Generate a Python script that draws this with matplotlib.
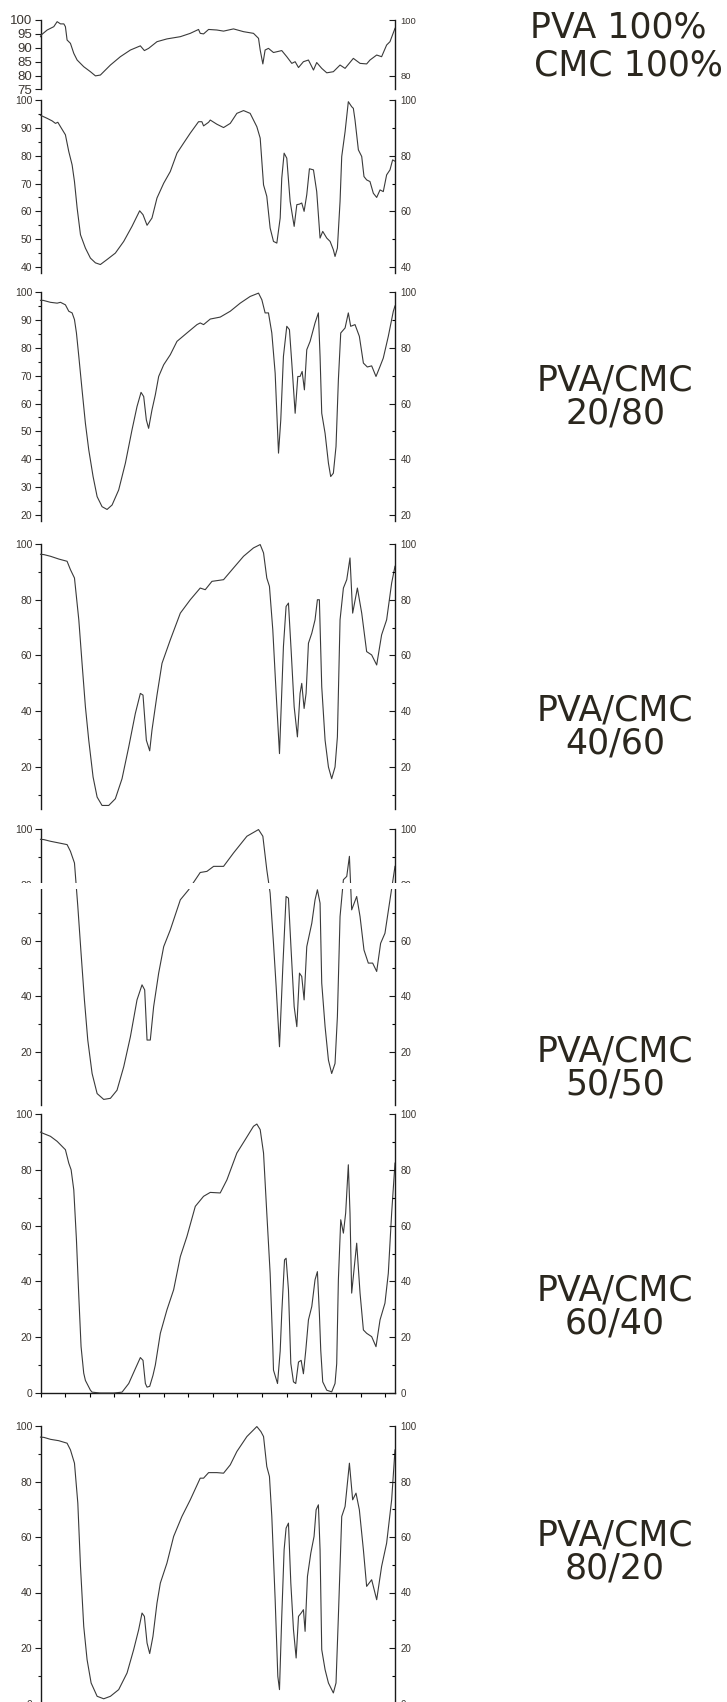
import matplotlib
matplotlib.use("Agg")
import matplotlib.pyplot as plt
from matplotlib.patches import Rectangle
from matplotlib.ticker import MultipleLocator, FixedLocator

# FTIR transmittance (%) vs wavenumber (cm-1)
wn_pva = [4000, 3993, 3932, 3865, 3831, 3797, 3763, 3747, 3730, 3696, 3662, 3628, 3561, 3493,
          3442, 3392, 3290, 3189, 3087, 2986, 2945, 2902, 2817, 2716, 2580, 2479, 2395, 2378,
          2344, 2293, 2209, 2141, 2040, 1938, 1837, 1786, 1769, 1742, 1719, 1685, 1634, 1550,
          1499, 1448, 1414, 1380, 1330, 1279, 1228, 1195, 1144, 1093, 1026, 958, 907, 823,
          755, 688, 654, 586, 536, 485, 451, 400]
t_pva = [94.0, 94.6, 96.4, 97.6, 99.4, 98.6, 98.6, 97.6, 92.8, 91.6, 88.0, 85.6, 83.2, 81.4,
         79.9, 80.2, 83.8, 86.8, 89.2, 90.7, 89.0, 89.8, 92.2, 93.2, 94.0, 95.2, 96.6, 95.2,
         95.0, 96.6, 96.4, 96.0, 96.8, 95.8, 95.2, 93.4, 89.2, 84.2, 89.2, 89.8, 88.3, 89.0,
         86.8, 84.4, 85.0, 82.9, 85.0, 85.6, 82.0, 84.7, 82.6, 81.0, 81.4, 83.8, 82.6, 86.2,
         84.4, 84.2, 85.6, 87.4, 86.8, 91.0, 92.2, 97.0]

wn_cmc = [4000, 3993, 3932, 3882, 3848, 3824, 3797, 3747, 3713, 3679, 3655, 3628, 3594, 3544,
          3493, 3442, 3392, 3324, 3240, 3155, 3071, 2993, 2959, 2918, 2868, 2817, 2749, 2682,
          2614, 2547, 2479, 2395, 2361, 2344, 2293, 2276, 2209, 2141, 2073, 2006, 1938, 1871,
          1803, 1769, 1735, 1702, 1668, 1634, 1600, 1566, 1550, 1526, 1499, 1465, 1424, 1397,
          1370, 1347, 1323, 1296, 1269, 1228, 1195, 1161, 1134, 1093, 1059, 1026, 1009, 985,
          958, 941, 907, 874, 840, 823, 806, 772, 738, 715, 688, 654, 620, 586, 552, 519,
          485, 451, 424, 400]
t_cmc = [94.5, 94.4, 93.4, 92.5, 91.6, 92.0, 90.4, 87.5, 81.5, 76.7, 70.7, 61.2, 51.6, 46.8,
         43.2, 41.5, 40.9, 42.7, 45.0, 49.2, 54.6, 60.2, 58.8, 55.0, 57.6, 64.8, 70.1, 74.3,
         80.9, 84.5, 88.1, 92.2, 92.2, 90.7, 92.0, 92.8, 91.3, 90.1, 91.6, 95.2, 96.2, 95.2,
         90.4, 86.3, 69.5, 65.4, 54.0, 49.2, 48.6, 57.6, 71.9, 80.9, 79.1, 63.6, 54.6, 62.4,
         62.6, 63.0, 60.0, 66.0, 75.3, 74.9, 67.1, 50.4, 52.8, 50.4, 49.2, 46.2, 43.8, 46.8,
         63.6, 79.7, 88.6, 99.4, 97.6, 97.0, 92.8, 82.1, 79.7, 72.5, 71.3, 70.7, 66.5, 65.0,
         67.7, 67.1, 73.1, 74.9, 78.5, 78.0]

wn_2080 = [4000, 3973, 3899, 3831, 3797, 3747, 3713, 3679, 3655, 3635, 3611, 3578, 3544, 3510,
           3466, 3425, 3375, 3324, 3273, 3206, 3138, 3071, 3020, 2979, 2952, 2925, 2902, 2868,
           2834, 2800, 2749, 2682, 2614, 2513, 2411, 2378, 2344, 2276, 2175, 2073, 1972, 1871,
           1786, 1752, 1719, 1685, 1651, 1617, 1583, 1560, 1533, 1499, 1472, 1448, 1414, 1387,
           1364, 1343, 1320, 1296, 1262, 1212, 1178, 1161, 1144, 1110, 1076, 1053, 1026, 999,
           975, 951, 907, 874, 850, 806, 762, 721, 681, 637, 593, 552, 519, 468, 417, 400]
t_2080 = [97.0, 97.0, 96.3, 96.0, 96.3, 95.4, 93.1, 92.5, 90.1, 85.3, 76.9, 64.9, 52.9, 43.4,
          33.8, 26.6, 23.0, 22.0, 23.6, 29.0, 38.6, 50.5, 58.9, 64.0, 62.5, 54.1, 51.1, 57.7,
          63.1, 69.7, 73.9, 77.5, 82.3, 85.3, 88.3, 88.9, 88.3, 90.3, 91.0, 93.1, 96.0, 98.4,
          99.6, 97.2, 92.5, 92.5, 85.3, 70.9, 42.2, 54.1, 76.9, 87.7, 86.5, 74.5, 56.5, 69.7,
          69.7, 71.5, 64.9, 79.3, 82.3, 88.9, 92.5, 76.9, 56.5, 49.3, 38.6, 33.8, 35.0, 44.6,
          68.5, 85.3, 87.1, 92.5, 87.7, 88.3, 84.1, 74.5, 73.1, 73.5, 69.7, 73.3, 76.3, 84.1,
          93.1, 95.0]

wn_4060 = [4000, 3966, 3899, 3814, 3730, 3696, 3655, 3611, 3578, 3544, 3510, 3466, 3425, 3375,
           3307, 3240, 3172, 3104, 3037, 2986, 2959, 2925, 2891, 2868, 2817, 2766, 2682, 2580,
           2479, 2378, 2327, 2259, 2141, 2040, 1938, 1837, 1769, 1735, 1702, 1675, 1641, 1607,
           1573, 1533, 1506, 1482, 1455, 1424, 1391, 1364, 1347, 1323, 1303, 1279, 1245, 1212,
           1188, 1168, 1144, 1110, 1076, 1043, 1009, 985, 958, 924, 890, 857, 830, 782, 738,
           688, 637, 586, 536, 485, 434, 400]
t_4060 = [96.3, 96.2, 95.6, 94.6, 93.8, 90.8, 87.8, 72.8, 57.2, 41.6, 29.6, 16.4, 9.2, 6.2,
          6.2, 8.6, 15.8, 27.2, 39.2, 46.4, 45.8, 29.6, 25.8, 33.2, 45.8, 57.2, 65.6, 75.2,
          80.0, 84.2, 83.6, 86.6, 87.2, 91.4, 95.6, 98.6, 99.8, 96.8, 87.8, 84.8, 69.2, 46.4,
          24.8, 63.2, 77.6, 78.8, 62.0, 41.6, 30.8, 46.4, 50.0, 41.0, 46.4, 64.4, 68.0, 72.8,
          80.0, 80.0, 48.8, 29.6, 20.0, 15.8, 20.0, 30.8, 72.8, 84.2, 87.2, 95.0, 75.2, 84.2,
          75.2, 61.4, 60.2, 56.6, 67.4, 72.8, 86.0, 92.0]

wn_5050 = [4000, 3966, 3899, 3814, 3730, 3696, 3655, 3621, 3588, 3554, 3520, 3476, 3425, 3358,
           3290, 3223, 3155, 3087, 3020, 2969, 2942, 2918, 2885, 2851, 2800, 2749, 2682, 2580,
           2496, 2378, 2310, 2242, 2141, 2040, 1904, 1786, 1742, 1702, 1668, 1634, 1607, 1573,
           1539, 1506, 1482, 1455, 1424, 1397, 1370, 1347, 1323, 1296, 1245, 1212, 1188, 1161,
           1144, 1110, 1076, 1043, 1009, 985, 958, 924, 890, 863, 840, 789, 755, 715, 671, 627,
           586, 546, 502, 451, 400]
t_5050 = [96.3, 96.2, 95.6, 95.0, 94.4, 92.0, 87.8, 72.2, 55.4, 38.7, 24.3, 12.3, 5.1, 3.0,
          3.4, 6.3, 14.7, 25.5, 38.7, 44.1, 42.3, 24.3, 24.3, 36.3, 48.3, 57.8, 63.8, 74.6,
          78.2, 84.4, 84.8, 86.6, 86.6, 91.4, 97.4, 99.8, 97.4, 85.4, 77.0, 59.0, 43.5, 21.9,
          50.7, 75.8, 75.2, 56.6, 36.3, 29.1, 48.3, 47.1, 38.7, 57.8, 66.2, 74.6, 78.2, 73.4,
          44.7, 29.1, 17.1, 12.3, 15.9, 32.7, 68.6, 81.8, 83.0, 90.2, 71.0, 75.8, 68.6, 56.6,
          51.9, 51.9, 48.9, 59.0, 62.6, 74.6, 86.6]

wn_6040 = [4000, 3983, 3899, 3831, 3747, 3713, 3689, 3662, 3635, 3611, 3588, 3561, 3544, 3493,
           3476, 3392, 3256, 3172, 3104, 3037, 2986, 2959, 2935, 2918, 2891, 2858, 2834, 2783,
           2716, 2648, 2580, 2513, 2428, 2344, 2276, 2175, 2107, 2006, 1921, 1837, 1803, 1769,
           1735, 1702, 1668, 1641, 1634, 1593, 1566, 1550, 1522, 1506, 1482, 1458, 1431, 1408,
           1380, 1353, 1330, 1306, 1279, 1245, 1212, 1188, 1168, 1154, 1134, 1093, 1043, 1009,
           992, 975, 951, 924, 901, 874, 857, 840, 813, 789, 755, 721, 688, 637, 593, 552, 502,
           468, 434, 400]
t_6040 = [93.5, 93.2, 92.0, 90.2, 87.2, 82.4, 80.0, 72.8, 54.9, 34.6, 16.6, 7.1, 4.5, 1.0,
          0.3, 0.0, 0.0, 0.3, 3.4, 8.7, 12.7, 11.7, 3.4, 2.1, 2.4, 6.3, 10.0, 21.4, 29.8, 37.0,
          48.9, 56.1, 66.9, 70.5, 71.9, 71.7, 76.4, 86.0, 90.8, 95.6, 96.4, 94.4, 86.0, 64.5,
          42.9, 16.6, 8.2, 3.4, 15.0, 28.6, 47.7, 48.3, 37.0, 10.6, 4.0, 3.4, 11.1, 11.7, 6.9,
          15.3, 26.2, 31.0, 40.6, 43.5, 28.6, 15.3, 4.0, 1.0, 0.4, 3.4, 10.5, 40.6, 62.1, 57.3,
          64.5, 81.8, 64.5, 35.8, 45.3, 53.7, 35.8, 22.6, 21.4, 20.2, 16.6, 26.2, 32.2, 42.9,
          64.5, 82.4]

wn_8020 = [4000, 3966, 3899, 3814, 3730, 3696, 3655, 3621, 3594, 3561, 3527, 3486, 3425, 3358,
           3290, 3206, 3121, 3054, 3003, 2969, 2945, 2918, 2891, 2858, 2817, 2783, 2716, 2648,
           2564, 2479, 2378, 2344, 2293, 2209, 2141, 2073, 2006, 1904, 1803, 1762, 1735, 1702,
           1675, 1651, 1617, 1590, 1573, 1550, 1526, 1506, 1482, 1458, 1431, 1404, 1380, 1353,
           1330, 1313, 1289, 1255, 1222, 1201, 1178, 1161, 1144, 1110, 1076, 1026, 999, 975,
           941, 907, 863, 830, 796, 762, 721, 688, 637, 586, 536, 485, 434, 400]
t_8020 = [96.0, 95.9, 95.2, 94.7, 93.8, 91.4, 86.6, 72.2, 49.4, 27.8, 15.8, 7.4, 2.6, 1.7,
          2.6, 5.0, 11.0, 19.4, 26.6, 32.6, 31.4, 21.8, 18.0, 24.2, 36.2, 43.4, 50.6, 60.2,
          67.4, 73.4, 81.2, 81.2, 83.2, 83.2, 83.0, 86.0, 90.8, 96.2, 99.8, 98.0, 96.2, 85.4,
          81.8, 67.4, 37.4, 9.8, 5.0, 31.4, 55.4, 63.2, 65.0, 43.4, 26.6, 16.4, 31.4, 32.6,
          33.8, 26.0, 45.8, 54.2, 60.2, 69.8, 71.6, 55.4, 19.4, 12.2, 7.4, 3.8, 7.4, 31.4,
          67.4, 71.0, 86.6, 73.4, 75.8, 69.8, 55.4, 42.2, 44.6, 37.4, 49.4, 57.8, 73.4, 91.4]

labels = ["PVA 100%", "CMC 100%", "PVA/CMC\n20/80", "PVA/CMC\n40/60",
          "PVA/CMC\n50/50", "PVA/CMC\n60/40", "PVA/CMC\n80/20"]

W, H = 727, 1702
fig = plt.figure(figsize=(W / 100, H / 100), dpi=100)

line_c = "#3a3a3a"
ink = "#2b271e"


def panel(top, bottom, ylim, left_major, left_minor, right_major, right_minor,
          lsize=7.5, rsize=7.0, show_bottom=False):
    ax = fig.add_axes([40.5 / W, 1 - bottom / H, (395 - 40.5) / W, (bottom - top) / H])
    ax.set_xlim(4000, 400)
    ax.set_ylim(*ylim)
    ax.patch.set_alpha(0)
    for s in ["top", "right"]:
        ax.spines[s].set_visible(False)
    ax.spines["bottom"].set_visible(show_bottom)
    for s in ["left", "bottom"]:
        ax.spines[s].set_linewidth(1.0)
        ax.spines[s].set_color("#1a1a1a")
    ax.yaxis.set_major_locator(MultipleLocator(left_major))
    if left_minor:
        ax.yaxis.set_minor_locator(MultipleLocator(left_minor))
    ax.tick_params(axis="y", which="major", direction="out", length=4, width=0.8,
                   labelsize=lsize, pad=2, colors="#1a1a1a", labelcolor="#3a3530")
    ax.tick_params(axis="y", which="minor", direction="out", length=2.5, width=0.8,
                   colors="#1a1a1a")
    if show_bottom:
        ax.xaxis.set_major_locator(MultipleLocator(250))
        ax.tick_params(axis="x", direction="out", length=3, width=0.8, labelbottom=False)
    else:
        ax.tick_params(axis="x", bottom=False, labelbottom=False)
    for lab in ax.get_yticklabels():
        lab.set_family("Liberation Sans")

    ar = ax.twinx()
    ar.set_ylim(*ylim)
    for s in ["top", "left", "bottom"]:
        ar.spines[s].set_visible(False)
    ar.spines["right"].set_linewidth(1.0)
    ar.spines["right"].set_color("#1a1a1a")
    ar.yaxis.set_major_locator(right_major)
    if right_minor:
        ar.yaxis.set_minor_locator(MultipleLocator(right_minor))
    ar.tick_params(axis="y", which="major", direction="in", length=4, width=0.8,
                   labelsize=rsize, pad=4, colors="#1a1a1a", labelcolor="#3a3530")
    ar.tick_params(axis="y", which="minor", direction="in", length=2.5, width=0.8)
    for lab in ar.get_yticklabels():
        lab.set_family("Liberation Sans")
    return ax


panels = [
    (20, 89.5, (75, 100), 5, None, FixedLocator([80, 100]), None, 9.5, 6.8, False),
    (100, 272.6, (38, 100), 10, 5, MultipleLocator(20), 10, 7.5, 7.0, False),
    (292, 520.6, (18, 100), 10, 5, MultipleLocator(20), 10, 7.5, 7.0, False),
    (544, 808.8, (5, 100), 20, 10, MultipleLocator(20), 10, 7.5, 7.0, False),
    (829, 1105, (1, 100), 20, 10, MultipleLocator(20), 10, 7.5, 7.0, False),
    (1114, 1393, (0, 100), 20, 10, MultipleLocator(20), 10, 7.5, 7.0, True),
    (1426, 1703.5, (0, 100), 20, 10, MultipleLocator(20), 10, 7.5, 7.0, True),
]
series = [(wn_pva, t_pva), (wn_cmc, t_cmc), (wn_2080, t_2080), (wn_4060, t_4060),
          (wn_5050, t_5050), (wn_6040, t_6040), (wn_8020, t_8020)]

for spec, (wn, t) in zip(panels, series):
    ax = panel(*spec)
    ax.plot(wn, t, color=line_c, lw=0.8, clip_on=False, zorder=3)

# sample names on the right
label_pos = [(618, 28, "center"), (723, 65, "right"), (615, 397, "center"),
             (615, 727, "center"), (615, 1068, "center"), (615, 1307, "center"),
             (615, 1552, "center")]
for (x, y, ha), txt in zip(label_pos, labels):
    fig.text(x / W, 1 - y / H, txt, ha=ha, va="center", fontsize=25,
             family="DejaVu Sans", color=ink, linespacing=0.95, multialignment="center")

# white scan gap across the 50/50 panel
fig.add_artist(Rectangle((0, 1 - 889 / H), 1, 6 / H, transform=fig.transFigure,
                         facecolor="white", edgecolor="none", zorder=20))

fig.savefig("out.png", dpi=100, facecolor="white")
